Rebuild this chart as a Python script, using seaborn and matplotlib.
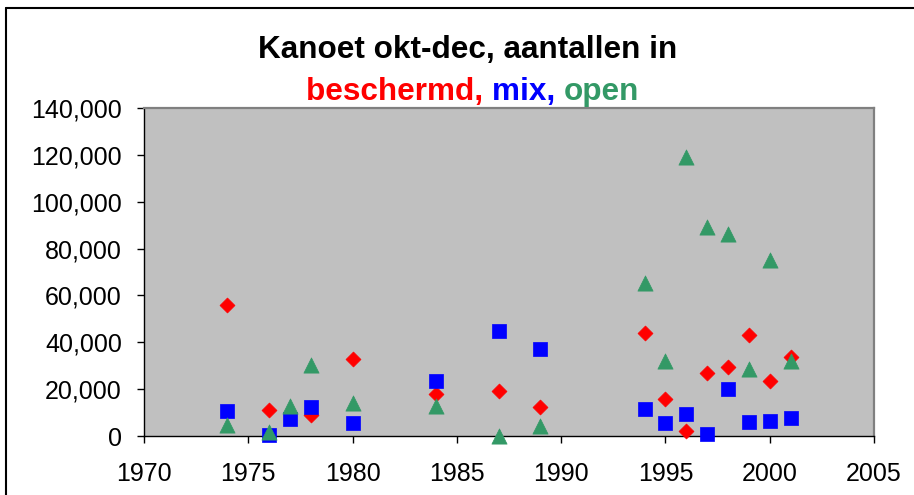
import matplotlib
matplotlib.use("Agg")
import matplotlib.pyplot as plt
from matplotlib.lines import Line2D
from matplotlib.ticker import FuncFormatter, MultipleLocator
import numpy as np
import pandas as pd
import seaborn as sns

# Kanoet (Knot) counts, October-December, per habitat type
years_beschermd = [1974, 1976, 1978, 1980, 1984, 1987, 1989, 1994, 1995, 1996,
                   1997, 1998, 1999, 2000, 2001]
beschermd = [56000, 10900, 9000, 33000, 18100, 19300, 12400, 44000, 16000, 2200,
             27000, 29500, 43200, 23500, 33700]

years_mix = [1974, 1976, 1977, 1978, 1980, 1984, 1987, 1989, 1994, 1995, 1996,
             1997, 1998, 1999, 2000, 2001]
mix = [10800, 300, 7300, 12400, 5700, 23500, 44900, 37200, 11600, 5700, 9200,
       900, 20100, 5800, 6600, 7600]

years_open = [1974, 1976, 1977, 1978, 1980, 1984, 1987, 1989, 1994, 1995, 1996,
              1997, 1998, 1999, 2000, 2001]
open_ = [4700, 1700, 12800, 30300, 14100, 12600, 0, 4300, 65300, 32000, 118900,
         89200, 86400, 28400, 75300, 32000]

x_ticks = [1970, 1975, 1980, 1985, 1990, 1995, 2000, 2005]

RED, BLUE, GREEN = "#FF0000", "#0000FF", "#339966"

df = pd.concat([
    pd.DataFrame({"jaar": years_beschermd, "aantal": beschermd, "type": "beschermd"}),
    pd.DataFrame({"jaar": years_mix, "aantal": mix, "type": "mix"}),
    pd.DataFrame({"jaar": years_open, "aantal": open_, "type": "open"}),
], ignore_index=True)

sns.set_style("ticks")
plt.rcParams["font.family"] = ["Liberation Sans", "DejaVu Sans"]

fig = plt.figure(figsize=(9.14, 4.95), dpi=100)
ax = fig.add_axes([144 / 914, 1 - 436 / 495, (874 - 144) / 914, (436 - 108) / 495])
ax.set_facecolor("#C0C0C0")

palette = {"beschermd": RED, "mix": BLUE, "open": GREEN}
markers = {"beschermd": "D", "mix": "s", "open": "^"}
sizes = {"beschermd": 58, "mix": 100, "open": 120}

for name in ["beschermd", "mix", "open"]:
    sub = df[df["type"] == name]
    sns.scatterplot(data=sub, x="jaar", y="aantal", ax=ax, color=palette[name],
                    marker=markers[name], s=sizes[name], edgecolor=palette[name],
                    linewidth=0.5, legend=False, clip_on=False, zorder=3)

ax.set_xlim(1970, 2005)
ax.set_ylim(0, 140000)
ax.set_xticks(x_ticks)
ax.yaxis.set_major_locator(MultipleLocator(20000))
ax.yaxis.set_major_formatter(FuncFormatter(lambda v, p: f"{int(v):,}"))
ax.set_xlabel("")
ax.set_ylabel("")

ax.tick_params(axis="both", direction="out", labelsize=18, colors="black",
               width=1, length=5)
ax.tick_params(axis="y", pad=11)
ax.tick_params(axis="x", pad=14)

for side in ["left", "bottom"]:
    ax.spines[side].set_color("black")
    ax.spines[side].set_linewidth(1.0)
for side in ["top", "right"]:
    ax.spines[side].set_visible(True)
    ax.spines[side].set_color("#808080")
    ax.spines[side].set_linewidth(1.6)

# outer chart frame
fig.add_artist(Line2D([6 / 914, 6 / 914], [0, 1 - 8 / 495], transform=fig.transFigure,
                      color="black", linewidth=1.5))
fig.add_artist(Line2D([6 / 914, 1], [1 - 8 / 495, 1 - 8 / 495], transform=fig.transFigure,
                      color="black", linewidth=1.5))

# two-line title, second line in series colours
fig.text(467.5 / 914, 1 - 58 / 495, "Kanoet okt-dec, aantallen in", ha="center",
         va="baseline", fontsize=22.7, fontweight="bold", color="black")

pieces = [("beschermd, ", RED), ("mix, ", BLUE), ("open", GREEN)]
renderer = fig.canvas.get_renderer()
texts = []
widths = []
for s, c in pieces:
    t = fig.text(0, 1 - 100 / 495, s, ha="left", va="baseline", fontsize=22.7,
                 fontweight="bold", color=c)
    texts.append(t)
    widths.append(t.get_window_extent(renderer).width)
total = sum(widths)
x0 = 472.5 - total / 2
for t, w in zip(texts, widths):
    t.set_x(x0 / 914)
    x0 += w

fig.savefig("out.png", dpi=100)
